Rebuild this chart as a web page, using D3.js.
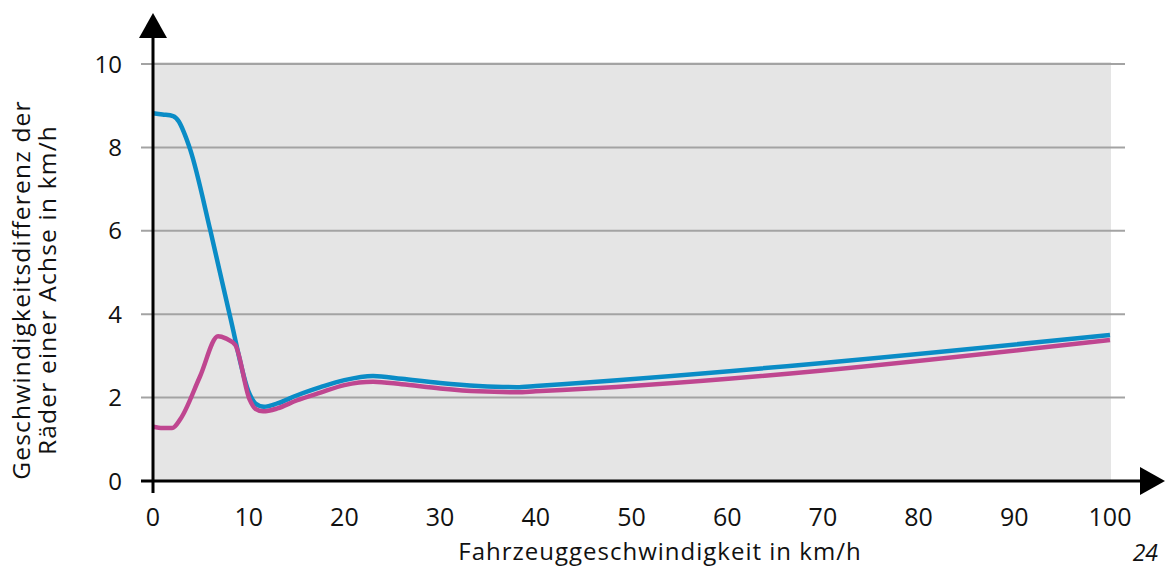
<!DOCTYPE html>
<html>
<head>
<meta charset="utf-8">
<script src="https://cdn.jsdelivr.net/npm/d3@7"></script>
<style>
  body { margin: 0; background: #fff; }
  svg { font-family: "Open Sans", "Liberation Sans", Arial, sans-serif; }
</style>
</head>
<body>
<svg class="chart" width="1165" height="567"></svg>
<script>
// speed (km/h) vs. wheel speed difference (km/h)
const xTicks = [0, 10, 20, 30, 40, 50, 60, 70, 80, 90, 100];
const yTicks = [0, 2, 4, 6, 8, 10];

const blueX = [0, 1, 2.1, 2.7, 3.2, 3.9, 6, 8, 10.1, 10.7, 11.6, 13, 15, 17.5, 20, 23, 26, 30, 34, 38, 40, 100];
const blueY = [8.82, 8.79, 8.75, 8.62, 8.38, 7.94, 6.0, 4.0, 2.08, 1.86, 1.78, 1.86, 2.05, 2.25, 2.42, 2.52, 2.45, 2.35, 2.28, 2.25, 2.28, 3.5];

const pinkX = [0, 1, 2, 2.9, 4.9, 6.8, 7.6, 8.6, 10.1, 10.7, 11.5, 13, 15, 17.5, 20, 23, 26, 30, 34, 38, 40, 100];
const pinkY = [1.3, 1.27, 1.27, 1.5, 2.5, 3.47, 3.42, 3.26, 1.95, 1.73, 1.67, 1.74, 1.93, 2.12, 2.3, 2.38, 2.32, 2.22, 2.15, 2.13, 2.15, 3.38];

const xLabel = 'Fahrzeuggeschwindigkeit in km/h';
const yLabel = ['Geschwindigkeitsdifferenz der', 'Räder einer Achse in km/h'];
const pageNo = '24';

let svg = d3.select('.chart');

const x = d3.scaleLinear().domain([0, 100]).range([153, 1110]);
const y = d3.scaleLinear().domain([0, 10]).range([481, 64]);

// grey plot area
svg.append('rect')
    .attr('x', x(0)).attr('y', y(10) - 2)
    .attr('width', x(100) - x(0) + 1)
    .attr('height', y(0) - y(10) + 2)
    .attr('fill', '#e5e5e5');

// gridlines
svg.append('g')
    .selectAll('line')
    .data(yTicks.filter(d => d > 0))
    .join('line')
    .attr('x1', 141).attr('x2', 1125)
    .attr('y1', d => y(d)).attr('y2', d => y(d))
    .attr('stroke', '#a3a3a3')
    .attr('stroke-width', 2);

// y tick labels
svg.append('g')
    .selectAll('text')
    .data(yTicks)
    .join('text')
    .attr('x', 122)
    .attr('y', d => y(d) + 8.5)
    .attr('text-anchor', 'end')
    .attr('font-size', 24)
    .attr('fill', '#111')
    .text(d => d);

// x tick labels
svg.append('g')
    .selectAll('text')
    .data(xTicks)
    .join('text')
    .attr('x', d => x(d))
    .attr('y', 526)
    .attr('text-anchor', 'middle')
    .attr('font-size', 25)
    .attr('fill', '#111')
    .text(d => d);

// lines
const line = (xs, ys) => d3.line()
    .x((d, i) => x(xs[i]))
    .y((d, i) => y(ys[i]))
    .curve(d3.curveMonotoneX)(xs);

svg.append('path')
    .attr('d', line(blueX, blueY))
    .attr('fill', 'none')
    .attr('stroke', '#0a8cc6')
    .attr('stroke-width', 4.5)
    .attr('stroke-linejoin', 'round');

svg.append('path')
    .attr('d', line(pinkX, pinkY))
    .attr('fill', 'none')
    .attr('stroke', '#bf4690')
    .attr('stroke-width', 4.5)
    .attr('stroke-linejoin', 'round');

// axes with arrows
svg.append('line')
    .attr('x1', x(0)).attr('x2', x(0))
    .attr('y1', 36).attr('y2', 493)
    .attr('stroke', '#000').attr('stroke-width', 3);
svg.append('path')
    .attr('d', `M${x(0)},13 L139,38 L167,38 Z`)
    .attr('fill', '#000');

svg.append('line')
    .attr('x1', 141).attr('x2', 1142)
    .attr('y1', y(0)).attr('y2', y(0))
    .attr('stroke', '#000').attr('stroke-width', 3);
svg.append('path')
    .attr('d', `M1165,${y(0)} L1140,${y(0) - 14} L1140,${y(0) + 14} Z`)
    .attr('fill', '#000');

// axis titles
svg.append('text')
    .attr('x', 660).attr('y', 560)
    .attr('text-anchor', 'middle')
    .attr('font-size', 24)
    .attr('letter-spacing', 1)
    .attr('fill', '#111')
    .text(xLabel);

svg.append('text')
    .attr('transform', 'translate(30,290) rotate(-90)')
    .attr('text-anchor', 'middle')
    .attr('font-size', 24.5)
    .attr('letter-spacing', 1.2)
    .attr('fill', '#111')
    .selectAll('tspan')
    .data(yLabel)
    .join('tspan')
    .attr('x', 0)
    .attr('dy', (d, i) => i ? 26 : 0)
    .text(d => d);

svg.append('text')
    .attr('x', 1158).attr('y', 561)
    .attr('text-anchor', 'end')
    .attr('font-size', 23)
    .attr('font-style', 'italic')
    .attr('fill', '#111')
    .text(pageNo);
</script>
</body>
</html>
